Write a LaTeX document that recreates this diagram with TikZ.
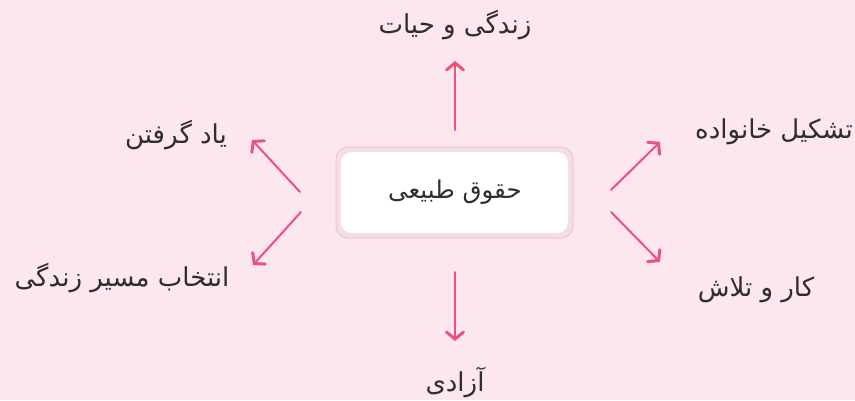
\documentclass[tikz,border=0pt]{standalone}
\usepackage{fontspec}
\newfontfamily\arabicfont[Script=Arabic]{DejaVu Sans}
\TeXXeTstate=1
\usetikzlibrary{arrows.meta}
\definecolor{bgpink}{HTML}{FCE6EF}
\definecolor{arrpink}{HTML}{F0507A}
\definecolor{txt}{HTML}{2E2E2E}
\definecolor{ring}{HTML}{F9DCE6}
\definecolor{rim}{HTML}{D9D0D4}
\tikzset{
  lbl/.style={font=\arabicfont\fontsize{26}{30}\selectfont, text=txt, inner sep=0pt},
  clbl/.style={font=\arabicfont\fontsize{24.5}{28}\selectfont, text=txt, inner sep=0pt},
  conn/.style={draw=arrpink, line width=2pt, line cap=round,
    -{Straight Barb[length=7pt,width=17pt,line width=3pt,line cap=round]}},
}
\begin{document}
\begin{tikzpicture}[x=1pt,y=-1pt]
\fill[bgpink] (0,0) rectangle (855,400);
\useasboundingbox (0,0) rectangle (855,400);
% center box
\draw[rim, fill=ring, line width=1pt, rounded corners=12pt] (336,147) rectangle (573,238);
\fill[white, rounded corners=11pt] (341,152) rectangle (568,233);
\node[clbl] (c) at (455,192) {\beginR حقوق طبیعی\endR};
% labels
\node[lbl] (top) at (455,25) {\beginR زندگی و حیات\endR};
\node[lbl] (bot) at (455,382) {\beginR آزادی\endR};
\node[lbl] (rt) at (774,132) {\beginR تشکیل خانواده\endR};
\node[lbl] (rb) at (756,290) {\beginR کار و تلاش\endR};
\node[lbl] (lt) at (176,135) {\beginR یاد گرفتن\endR};
\node[lbl] (lb) at (122,278) {\beginR انتخاب مسیر زندگی\endR};
% arrow coordinates
\coordinate (a1s) at (455,130); \coordinate (a1e) at (455,61);
\coordinate (a2s) at (455,272); \coordinate (a2e) at (455,341);
\coordinate (a3s) at (611,190); \coordinate (a3e) at (660,142);
\coordinate (a4s) at (611,212); \coordinate (a4e) at (660,262);
\coordinate (a5s) at (300,192); \coordinate (a5e) at (252,140);
\coordinate (a6s) at (301,212); \coordinate (a6e) at (253,265);
\foreach \i in {1,...,6} {\draw[conn] (a\i s) -- (a\i e);}
\end{tikzpicture}
\end{document}
